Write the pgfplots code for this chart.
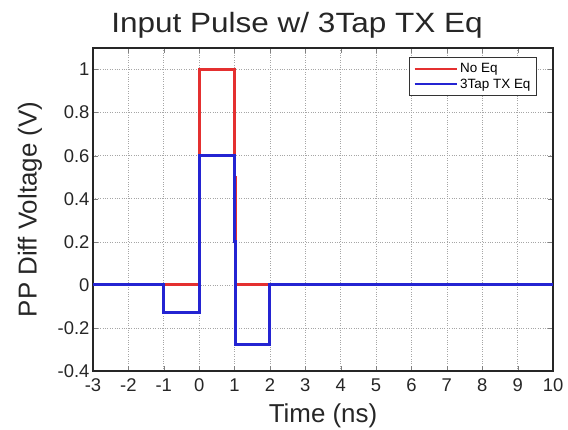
\documentclass[border=0pt]{standalone}
\usepackage{fontspec}
\setmainfont{Liberation Sans}
\newfontfamily\widefont[FakeStretch=1.13]{Liberation Sans}
\usepackage{pgfplots}
\pgfplotsset{compat=1.18}
\definecolor{cRed}{RGB}{228,48,48}
\definecolor{cBlue}{RGB}{36,36,210}

\begin{document}
\begin{tikzpicture}[x=1bp,y=1bp]
\path[use as bounding box] (0,0) rectangle (568,429);
\begin{axis}[
  at={(93bp,58bp)}, anchor=south west,
  scale only axis, width=460bp, height=323bp,
  xmin=-3, xmax=10, ymin=-0.4, ymax=1.1,
  xtick={-3,-2,...,10}, ytick={-0.4,-0.2,0,0.2,0.4,0.6,0.8,1},
  yticklabels={-0.4,-0.2,0,0.2,0.4,0.6,0.8,1},
  /pgf/number format/assume math mode=true,
  tick align=inside, tick pos=both,
  major tick length=5bp,
  axis line style={line width=1.3pt, black!85},
  grid=major, grid style={dotted, gray!70, line width=0.6pt},
  tick label style={font=\fontsize{18.5}{20}\selectfont, black!85},
  xticklabel style={yshift=-4bp},
  label style={font=\fontsize{26}{28}\selectfont, black!85},
  title style={font=\widefont\fontsize{28}{32}\selectfont, black!85, yshift=0bp, xshift=-26bp},
  title={Input Pulse w/ 3Tap TX Eq},
  xlabel={Time (ns)}, ylabel={PP Diff Voltage (V)},
  xlabel style={yshift=-5bp}, ylabel style={yshift=9bp},
  legend cell align=left,
  legend style={font=\fontsize{13.5}{15}\selectfont, at={(0.965,0.973)}, anchor=north east,
    draw=black!80, line width=0.9pt, row sep=1pt, inner sep=4pt},
  legend image post style={line width=2pt},
  legend image code/.code={\draw[#1] (0cm,0cm) -- (1.5cm,0cm);},
]
\addplot[cRed, line width=3pt] coordinates {(-3,0)(0,0)(0,1)(1,1)(1,0.5)(1.04,0.5)(1.04,0)(10,0)};
\addplot[cBlue, line width=3pt] coordinates {(-3,0)(-1,0)(-1,-0.13)(0,-0.13)(0,0.6)(1,0.6)(1,0.2)(1.04,0.2)(1.04,-0.275)(2,-0.275)(2,0)(10,0)};
\legend{No Eq, 3Tap TX Eq}
\end{axis}
\end{tikzpicture}
\end{document}
